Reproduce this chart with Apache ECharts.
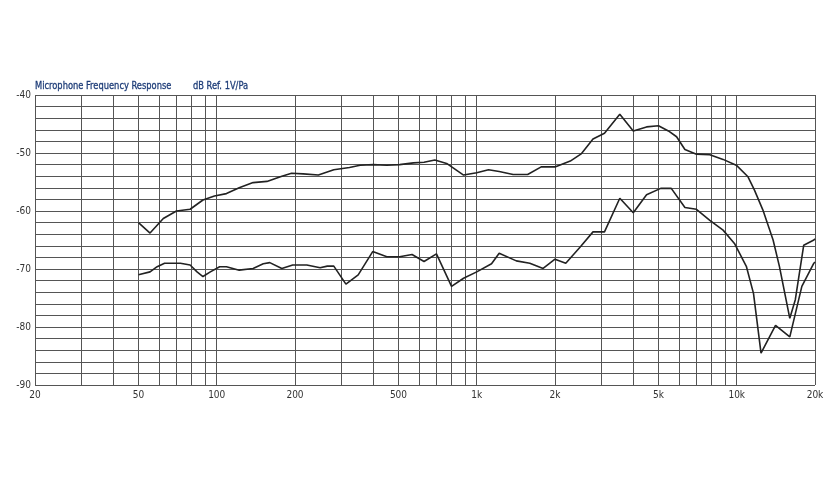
<!DOCTYPE html>
<html>
<head>
<meta charset="utf-8">
<script src="https://cdn.jsdelivr.net/npm/echarts@6/dist/echarts.min.js"></script>
<style>html,body{margin:0;padding:0;background:#fff}#c{width:840px;height:480px}</style>
</head>
<body>
<div id="c"></div>
<script>
const freqUpper = [50,55.4,62.3,70,79,88.5,98,109,122,138,156,178,194,215,246,282,324,356,400,451,505,571,627,690,766,890,1000,1110,1220,1380,1570,1770,2000,2290,2530,2800,3100,3550,4000,4500,5000,5460,5870,6320,7000,7880,8860,9960,11050,11700,12600,13800,14600,16000,16800,18100,19800,20000];
const dbUpper = [-62.0,-63.8,-61.3,-60.0,-59.7,-58.1,-57.4,-57.0,-56.0,-55.1,-54.9,-54.0,-53.5,-53.6,-53.8,-52.9,-52.5,-52.1,-52.0,-52.1,-52.0,-51.7,-51.6,-51.2,-51.8,-53.8,-53.4,-52.9,-53.2,-53.7,-53.7,-52.4,-52.4,-51.4,-50.1,-47.6,-46.6,-43.3,-46.2,-45.5,-45.3,-46.2,-47.2,-49.4,-50.2,-50.3,-51.1,-52.1,-54.1,-56.4,-59.8,-65.0,-69.6,-78.5,-75.3,-65.9,-65.0,-64.8];
const freqLower = [50,55.4,59,63,72.5,79,84,88.5,94.5,102.6,109,122,138,151,160,178,196,222,250,266,282,314,350,398,451,505,564,627,700,800,890,1000,1140,1220,1420,1600,1800,2000,2200,2500,2800,3100,3550,4000,4500,5100,5600,6320,7000,7880,8860,9800,10900,11600,12400,14100,16000,17800,19800,20000];
const dbLower = [-71.0,-70.5,-69.6,-69.0,-69.0,-69.3,-70.5,-71.3,-70.5,-69.6,-69.6,-70.2,-69.9,-69.1,-68.9,-69.9,-69.3,-69.3,-69.8,-69.5,-69.5,-72.6,-71.0,-67.0,-67.9,-67.9,-67.5,-68.7,-67.4,-73.0,-71.6,-70.5,-69.1,-67.3,-68.6,-69.0,-69.9,-68.3,-69.0,-66.2,-63.6,-63.6,-57.8,-60.3,-57.2,-56.1,-56.1,-59.4,-59.7,-61.6,-63.3,-65.6,-69.6,-74.2,-84.5,-79.7,-81.7,-73.0,-69.0,-68.8];
const xGridValues = [20,30,40,50,60,70,80,90,100,200,300,400,500,600,700,800,900,1000,2000,3000,4000,5000,6000,7000,8000,9000,10000,20000];
const xLabelValues = [20,50,100,200,500,1000,2000,5000,10000,20000];
const titleMain = 'Microphone Frequency Response';
const titleUnit = 'dB Ref. 1V/Pa';

const zip = (a,b) => a.map((v,i)=>[v,b[i]]);
const FONT = "'Liberation Sans Narrow','DejaVu Sans Condensed','Roboto Condensed',sans-serif";
const chart = echarts.init(document.getElementById('c'));
chart.setOption({
  animation:false,
  backgroundColor:'#fff',
  grid:{left:35,right:25,top:95,bottom:95,containLabel:false},
  graphic:[
    {type:'text',x:35,y:81,scaleX:0.84,style:{text:titleMain,font:"11px "+FONT,fill:'#1d3c78',stroke:'#1d3c78',lineWidth:0.3}},
    {type:'text',x:193,y:81,scaleX:0.84,style:{text:titleUnit,font:"11px "+FONT,fill:'#1d3c78',stroke:'#1d3c78',lineWidth:0.3}}
  ],
  xAxis:{
    type:'log',logBase:10,min:20,max:20000,
    axisLine:{show:false},
    axisTick:{show:false,customValues:xGridValues},
    splitLine:{show:true,lineStyle:{color:'#555',width:1}},
    axisLabel:{customValues:xLabelValues,fontFamily:FONT,fontSize:10,color:'#333',margin:5,
      formatter:v=>v>=1000?(v/1000)+'k':String(v)}
  },
  yAxis:{
    type:'value',min:-90,max:-40,interval:2,
    axisLine:{show:false},axisTick:{show:false},
    splitLine:{show:true,lineStyle:{color:'#555',width:1}},
    axisLabel:{fontFamily:FONT,fontSize:10,color:'#333',margin:4,
      formatter:v=>(v%10===0)?String(v):''}
  },
  series:[
    {type:'line',data:zip(freqUpper,dbUpper),showSymbol:false,symbol:'none',lineStyle:{color:'#222',width:1.6}},
    {type:'line',data:zip(freqLower,dbLower),showSymbol:false,symbol:'none',lineStyle:{color:'#222',width:1.6}}
  ]
});
</script>
</body>
</html>
